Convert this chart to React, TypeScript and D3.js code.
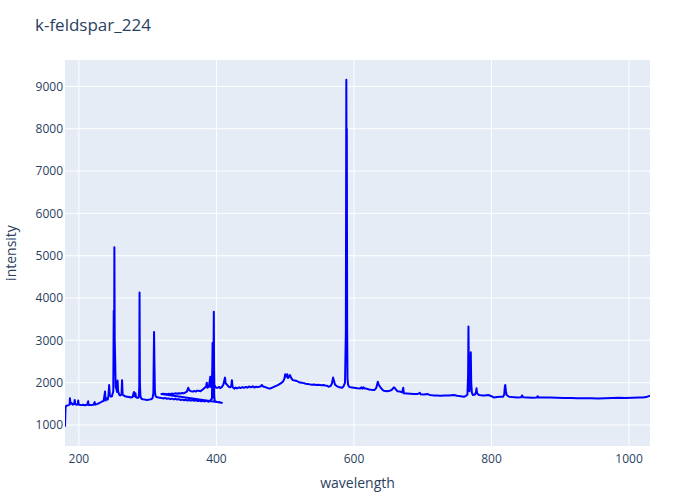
import React from "react";
import * as d3 from "d3";

const title = "k-feldspar_224";
const xLabel = "wavelength";
const yLabel = "intensity";
const xTicks = [200, 400, 600, 800, 1000];
const yTicks = [1000, 2000, 3000, 4000, 5000, 6000, 7000, 8000, 9000];

// first spectrometer segment (UV)
const seg1Wavelength = [
  179.8, 180.6, 181.5, 183, 185, 186.5, 187, 187.8, 189, 191, 193, 194, 194.8, 197, 198.5, 199, 199.8,
  203, 206, 209, 212, 213.5, 214.3, 218, 221, 223, 223.8, 227, 230, 233, 236, 238, 238.8, 240.4, 242,
  243, 244, 245, 246.6, 248, 250, 250.7, 251.3, 251.6, 252.1, 252.8, 253.5, 254.5, 255.5, 256.3, 257,
  258.5, 260, 262, 262.8, 263.6, 265, 267, 270, 273, 276, 278, 280, 280.8, 282.2, 283, 285, 287, 287.8,
  288.2, 288.7, 289.5, 291, 293, 296, 299, 302, 305, 307, 308.3, 309.3, 309.9, 310.5, 311.5, 313, 316,
  320, 323, 325, 328, 330, 333, 335, 338, 340, 343, 345, 348, 350, 353, 355, 358, 360, 363, 365, 368,
  370, 373, 375, 378, 380, 383, 385, 388, 390, 392, 393.5, 394.4, 395, 395.5, 396.2, 396.8, 397.5, 400,
  402, 404, 406, 408,
];
const seg1Intensity = [
  960, 1420, 1450, 1460, 1470, 1480, 1630, 1500, 1520, 1480, 1500, 1590, 1490, 1480, 1500, 1580, 1480,
  1470, 1480, 1465, 1480, 1560, 1470, 1470, 1480, 1540, 1480, 1500, 1520, 1550, 1570, 1790, 1580, 1630, 1600,
  1700, 1944, 1700, 1670, 1680, 1800, 3700, 2600, 5200, 3000, 2500, 1900, 1850, 1780, 2050, 1800,
  1720, 1700, 1720, 2060, 1720, 1700, 1680, 1670, 1660, 1650, 1660, 1780, 1680, 1750, 1660, 1640, 1650, 1900,
  4130, 2000, 1680, 1620, 1610, 1600, 1590, 1600, 1610, 1630, 1750, 3200, 2400, 1800, 1680, 1660, 1650,
  1640, 1625, 1640, 1620, 1630, 1610, 1625, 1605, 1620, 1600, 1612, 1590, 1600, 1585, 1598, 1580, 1592, 1575, 1588, 1572,
  1582, 1565, 1578, 1560, 1570, 1555, 1575, 1550, 1560, 1600, 1620, 2935, 1650, 2000, 3674, 1700, 1560, 1550,
  1535, 1545, 1525, 1526,
];

// second spectrometer segment (VIS/NIR)
const seg2Wavelength = [
  320, 323, 325, 327, 329, 331, 333, 335, 338, 340, 343, 345, 348, 350, 353, 355, 357, 359, 360.5, 363, 366,
  368, 370, 372, 374, 377, 380, 383, 385,
  386, 387, 389, 390, 391, 392, 393.3, 394.4, 395, 396.1, 397, 398.5, 400, 402, 404, 405.5, 408, 410,
  412.5, 413.5, 415, 418, 420, 421.5, 422.5, 423.5, 426, 428, 430, 433, 435, 438, 440, 443, 445, 448, 450,
  453, 455, 458, 460, 464, 466,
  468, 472, 475, 478, 482, 486, 490, 494, 497, 499, 500, 501, 502, 503, 504, 505.5, 507, 508.5, 511, 514,
  517, 520, 524, 527, 530, 533, 536, 539, 542, 545, 548, 553, 556, 558, 561, 563, 566, 568, 569.6, 571, 572.5,
  575, 579, 582.8, 585,
  587, 588.2, 588.9, 589.3, 589.6, 590.1, 590.6, 591.5, 593, 595, 600, 605, 609, 611, 612, 614, 615, 618,
  622, 626, 630, 632.5, 634.7, 636, 638.6, 641, 643.4, 648, 652, 655, 658, 660, 663, 667, 670, 671.7,
  672.6, 677, 682, 687, 692, 696, 697, 702, 706.6, 710, 715, 720, 726, 732, 738, 745.5, 750, 755, 760,
  763, 765, 766, 766.5, 767, 768, 769, 769.9, 770.5, 771.5, 773, 776, 777.5, 778.2, 779, 781.8, 786, 790,
  795.5, 800, 803.7, 808, 813.5, 817, 818.5, 819.5, 820, 821, 822, 825.6, 830, 837.7, 843, 844.5, 846,
  852, 860, 866, 867, 868.5, 875, 885, 895, 905, 915, 925, 935, 945, 955, 965, 975, 985, 995, 1005, 1015,
  1020, 1025, 1030.5,
];
const seg2Intensity = [
  1730, 1738, 1726, 1735, 1724, 1740, 1730, 1742, 1735, 1748, 1738, 1752, 1744, 1758, 1750, 1770, 1790, 1880, 1820, 1800, 1790,
  1805, 1790, 1812, 1808, 1800, 1840, 1880, 1920,
  2000, 1880, 1900, 2010, 2140, 1900, 1950, 2600, 2000, 2900, 1950, 1900, 1880, 1880, 1900, 1870, 1900, 1950,
  2120, 1980, 1960, 1900, 1890, 1920, 2060, 1900, 1860, 1885, 1865, 1890, 1872, 1895, 1878, 1900, 1882, 1910, 1890,
  1915, 1885, 1905, 1895, 1910, 1944,
  1910, 1890, 1870, 1860, 1890, 1920, 1950, 1990, 2030, 2100, 2200, 2140, 2150, 2200, 2110, 2140, 2180, 2120, 2060, 2050,
  2040, 2010, 2000, 1990, 1975, 1968, 1960, 1952, 1958, 1946, 1950, 1940, 1945, 1935, 1928, 1905, 1920, 1980, 2120, 2040, 1950,
  1920, 1890, 1880, 1920,
  2000, 3200, 9160, 6500, 8000, 3300, 2100, 1950, 1900, 1890, 1880, 1870, 1865, 1890, 1860, 1890, 1860, 1860,
  1840, 1830, 1830, 1880, 2020, 1950, 1890, 1840, 1810, 1800, 1810, 1830, 1890, 1860, 1800, 1790, 1770, 1880,
  1750, 1745, 1740, 1735, 1730, 1760, 1725, 1720, 1735, 1710, 1700, 1695, 1690, 1695, 1700, 1708, 1690, 1680, 1668,
  1690, 1720, 2200, 3330, 2400, 1800, 2000, 2720, 2000, 1760, 1710, 1720, 1780, 1866, 1750, 1708, 1700, 1695,
  1708, 1680, 1650, 1660, 1668, 1670, 1720, 1920, 1944, 1800, 1708, 1668, 1660, 1650, 1655, 1700, 1655,
  1650, 1645, 1650, 1680, 1650, 1648, 1650, 1645, 1640, 1638, 1635, 1632, 1630, 1628, 1632, 1638, 1642, 1640, 1645, 1650,
  1652, 1660, 1690,
];

const W = 700;
const H = 500;
const M = { left: 65, right: 50, top: 60, bottom: 54 };

export default function App() {
  const points: [number, number][] = [
    ...seg1Wavelength.map((w, i) => [w, seg1Intensity[i]] as [number, number]),
    ...seg2Wavelength.map((w, i) => [w, seg2Intensity[i]] as [number, number]),
  ];
  const x = d3.scaleLinear().domain([179.8, 1030.5]).range([M.left, W - M.right]);
  const y = d3.scaleLinear().domain([504, 9624]).range([H - M.bottom, M.top]);
  const line = d3
    .line<[number, number]>()
    .x((d) => x(d[0]))
    .y((d) => y(d[1]));
  const font = "'Open Sans', 'Noto Sans', sans-serif";
  const textColor = "#2a3f5f";
  return (
    <svg
      width={W}
      height={H}
      style={{ position: "absolute", left: 0, top: 0, background: "#fff" }}
      fontFamily={font}
    >
      <rect
        x={M.left}
        y={M.top}
        width={W - M.left - M.right}
        height={H - M.top - M.bottom}
        fill="#E5ECF6"
      />
      {xTicks.map((t) => (
        <line key={"gx" + t} x1={x(t)} x2={x(t)} y1={M.top} y2={H - M.bottom} stroke="#fff" strokeWidth={1} />
      ))}
      {yTicks.map((t) => (
        <line key={"gy" + t} x1={M.left} x2={W - M.right} y1={y(t)} y2={y(t)} stroke="#fff" strokeWidth={1} />
      ))}
      <defs>
        <clipPath id="plotclip">
          <rect x={M.left} y={M.top} width={W - M.left - M.right} height={H - M.top - M.bottom} />
        </clipPath>
      </defs>
      <path
        d={line(points) || ""}
        fill="none"
        stroke="#0000ff"
        strokeWidth={2}
        strokeLinejoin="round"
        clipPath="url(#plotclip)"
      />
      {xTicks.map((t) => (
        <text key={"tx" + t} x={x(t)} y={H - M.bottom + 17} textAnchor="middle" fontSize={12} fill={textColor}>
          {t}
        </text>
      ))}
      {yTicks.map((t) => (
        <text key={"ty" + t} x={M.left - 2} y={y(t)} dy="0.35em" textAnchor="end" fontSize={12} fill={textColor}>
          {t}
        </text>
      ))}
      <text x={35} y={31} fontSize={17} fill={textColor}>
        {title}
      </text>
      <text x={(M.left + W - M.right) / 2} y={488} textAnchor="middle" fontSize={14} fill={textColor}>
        {xLabel}
      </text>
      <text
        transform={`translate(16,${(M.top + H - M.bottom) / 2}) rotate(-90)`}
        textAnchor="middle"
        fontSize={14}
        fill={textColor}
      >
        {yLabel}
      </text>
    </svg>
  );
}
